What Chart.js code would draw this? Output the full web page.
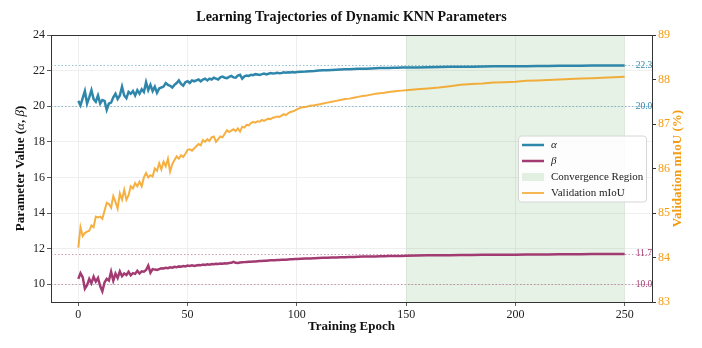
<!DOCTYPE html>
<html>
<head>
<meta charset="utf-8">
<script src="https://cdn.jsdelivr.net/npm/chart.js@4.4.1/dist/chart.umd.min.js"></script>
<style>
  html, body { margin: 0; padding: 0; background: #fff; }
  #wrap { width: 702px; height: 348px; position: relative; }
</style>
</head>
<body>
<div id="wrap"><canvas id="chart"></canvas></div>
<script>
// Dynamic KNN parameter trajectories (alpha, beta) + validation mIoU

// x positions (training epochs)
const epochs = [
  0, 1, 2, 3, 4, 5, 6, 7, 8, 9, 10, 11, 12, 13, 14, 15, 16, 17, 18, 19,
  20, 21, 22, 23, 24, 25, 26, 27, 28, 29, 30, 31, 32, 33, 34, 35, 36, 37, 38, 39,
  40, 41, 42, 43, 44, 45, 46, 47, 48, 49, 50, 51, 52, 53, 54, 55, 56, 57, 58, 59,
  60, 61, 62, 63, 64, 65, 66, 67, 68, 69, 70, 71, 72, 73, 74, 75, 76, 77, 78, 79,
  80, 81, 82, 83, 84, 85, 86, 87, 88, 89, 90, 91, 92, 93, 94, 95, 96, 97, 98, 99, 100,
  102, 104, 106, 108, 110, 112, 114, 116, 118, 120, 122, 124, 126, 128, 130,
  132, 134, 136, 138, 140, 142, 144, 146, 148, 150,
  155, 160, 165, 170, 175, 180, 185, 190, 195, 200,
  205, 210, 215, 220, 225, 230, 235, 240, 245, 250
];

const alphaValues = [
  20.3, 20.05, 20.45, 20.85, 20.15, 20.5, 20.9, 20.4, 20.25, 20.6,
  20.15, 20.35, 20.3, 19.8, 20.15, 20.2, 20.5, 20.7, 20.4, 20.6,
  21.1, 20.6, 20.45, 20.8, 20.7, 20.85, 20.6, 20.9, 20.7, 20.95,
  20.8, 21.35, 20.9, 21.2, 20.85, 21.1, 20.75, 21.0, 21.05, 21.1,
  21.3, 21.2, 21.15, 21.05, 21.2, 21.3, 21.45, 21.25, 21.15, 21.35,
  21.4, 21.3, 21.45, 21.4, 21.45, 21.5, 21.4, 21.5, 21.55, 21.45,
  21.55, 21.5, 21.6, 21.55, 21.5, 21.62, 21.66, 21.6, 21.58, 21.65,
  21.7, 21.62, 21.6, 21.72, 21.76, 21.55, 21.68, 21.72, 21.7, 21.76,
  21.74, 21.8, 21.78, 21.75, 21.8, 21.83, 21.79, 21.82, 21.86, 21.84,
  21.85, 21.88, 21.85, 21.87, 21.9, 21.88, 21.9, 21.89, 21.92, 21.9,
  21.92,
  21.94, 21.95, 21.97, 21.98, 22.0, 22.02, 22.02, 22.04, 22.05, 22.06,
  22.07, 22.08, 22.09, 22.1, 22.11, 22.11, 22.12, 22.13, 22.14, 22.14,
  22.15, 22.16, 22.16, 22.17, 22.17,
  22.18, 22.19, 22.2, 22.21, 22.22, 22.22, 22.23, 22.24, 22.24, 22.25,
  22.25, 22.26, 22.26, 22.27, 22.27, 22.27, 22.28, 22.28, 22.28, 22.29
];

const betaValues = [
  10.3, 10.62, 10.4, 9.75, 9.95, 10.3, 10.05, 10.42, 10.15, 10.35,
  9.9, 9.6, 10.1, 10.3, 10.2, 10.7, 10.2, 10.6, 10.35, 10.72,
  10.45, 10.6, 10.52, 10.7, 10.5, 10.62, 10.58, 10.75, 10.6, 10.72,
  10.7, 10.8, 11.05, 10.65, 10.85, 10.82, 10.8, 10.85, 10.9, 10.88,
  10.92, 10.9, 10.95, 10.93, 10.98, 10.95, 11.0, 10.98, 11.02, 11.0,
  11.05, 11.03, 11.06, 11.02, 11.05, 11.08, 11.06, 11.1, 11.08, 11.12,
  11.1, 11.13, 11.12, 11.15, 11.13, 11.16, 11.15, 11.18, 11.17, 11.19,
  11.2, 11.26, 11.2, 11.19, 11.22, 11.23, 11.24, 11.25, 11.26, 11.26,
  11.28, 11.27, 11.29, 11.3, 11.3, 11.32, 11.32, 11.33, 11.34, 11.34,
  11.35, 11.36, 11.36, 11.37, 11.38, 11.38, 11.39, 11.4, 11.4, 11.41,
  11.42,
  11.43, 11.44, 11.45, 11.46, 11.47, 11.48, 11.49, 11.5, 11.5, 11.51,
  11.52, 11.53, 11.53, 11.54, 11.55, 11.55, 11.56, 11.56, 11.57, 11.57,
  11.58, 11.58, 11.59, 11.59, 11.6,
  11.61, 11.62, 11.62, 11.63, 11.64, 11.64, 11.65, 11.65, 11.66, 11.66,
  11.67, 11.67, 11.67, 11.68, 11.68, 11.68, 11.69, 11.69, 11.69, 11.7
];

const miouValues = [
  84.22, 84.68, 84.48, 84.55, 84.58, 84.6, 84.72, 84.68, 84.92, 84.9,
  84.92, 84.87, 85.05, 85.23, 85.2, 85.12, 85.38, 85.25, 85.1, 85.44,
  85.3, 85.52, 85.3, 85.4, 85.6, 85.55, 85.67, 85.6, 85.7, 85.6,
  85.8, 85.9, 85.8, 85.85, 85.82, 86.0, 85.95, 86.12, 85.98, 86.15,
  86.05, 86.22, 85.93, 86.1, 86.19, 86.27, 86.22, 86.3, 86.26, 86.33,
  86.42, 86.43, 86.4, 86.45, 86.5, 86.55, 86.52, 86.64, 86.6, 86.66,
  86.62, 86.7, 86.72, 86.6, 86.66, 86.72, 86.7, 86.78, 86.86, 86.82,
  86.85, 86.88, 86.84, 86.9, 86.83, 86.94, 86.92, 86.98, 86.97, 87.02,
  87.05, 87.03, 87.06, 87.05, 87.09, 87.07, 87.1, 87.12, 87.11, 87.14,
  87.15, 87.17, 87.16, 87.19, 87.22, 87.2, 87.24, 87.27, 87.28, 87.3,
  87.33,
  87.37, 87.38, 87.41, 87.42, 87.44, 87.46, 87.48, 87.5, 87.52, 87.54,
  87.56, 87.57, 87.59, 87.61, 87.63, 87.64, 87.66, 87.68, 87.69, 87.7,
  87.72, 87.73, 87.74, 87.75, 87.76,
  87.78, 87.8, 87.82, 87.85, 87.88, 87.9, 87.91, 87.93, 87.94, 87.95,
  87.97, 87.98, 87.99, 88.0, 88.01, 88.02, 88.03, 88.04, 88.05, 88.06
];

// reference levels: initial and final values
const alphaRefs = [20.0, 22.3];
const betaRefs = [10.0, 11.7];
const convergenceRange = [150, 250];

// tick labels
const xTicks = [0, 50, 100, 150, 200, 250];
const yTicks = [10, 12, 14, 16, 18, 20, 22, 24];
const y2Ticks = [83, 84, 85, 86, 87, 88, 89];

const COLORS = {
  alpha: '#2E86AB',
  beta: '#A23B72',
  miou: 'rgba(243, 156, 18, 0.8)',
  miouText: '#F39C12',
  region: 'rgba(0, 128, 0, 0.1)',
  axis: '#333333',
  grid: '#ebebeb',
  text: '#222222'
};
const SERIF = '"Liberation Serif", "Times New Roman", serif';

const toPoints = vals => epochs.map((e, i) => ({ x: e, y: vals[i] }));

// desenha texto com partes de fontes diferentes (negrito / itálico)
function drawParts(ctx, parts, x, y) {
  let total = 0;
  parts.forEach(p => { ctx.font = p.font; total += ctx.measureText(p.text).width; });
  let cx = x - total / 2;
  parts.forEach(p => {
    ctx.font = p.font;
    ctx.fillText(p.text, cx, y);
    cx += ctx.measureText(p.text).width;
  });
}

const decorPlugin = {
  id: 'decor',
  beforeDatasetsDraw(chart) {
    const { ctx, chartArea: a, scales: { x, y } } = chart;
    ctx.save();
    // convergence region
    const x0 = x.getPixelForValue(convergenceRange[0]);
    const x1 = x.getPixelForValue(convergenceRange[1]);
    ctx.fillStyle = COLORS.region;
    ctx.fillRect(x0, a.top, x1 - x0, a.bottom - a.top);

    // dotted reference lines
    ctx.lineWidth = 1;
    ctx.setLineDash([1.5, 2]);
    const refs = [[alphaRefs, COLORS.alpha], [betaRefs, COLORS.beta]];
    refs.forEach(([vals, color]) => {
      ctx.strokeStyle = color;
      ctx.globalAlpha = 0.5;
      vals.forEach(v => {
        const py = Math.round(y.getPixelForValue(v)) + 0.5;
        ctx.beginPath();
        ctx.moveTo(a.left, py);
        ctx.lineTo(a.right, py);
        ctx.stroke();
      });
    });
    ctx.restore();
  },
  afterDraw(chart) {
    const { ctx, chartArea: a, scales: { x, y } } = chart;
    const cy = (a.top + a.bottom) / 2;
    ctx.save();

    // top spine
    ctx.strokeStyle = COLORS.axis;
    ctx.lineWidth = 1;
    ctx.beginPath();
    ctx.moveTo(a.left, a.top + 0.5);
    ctx.lineTo(a.right, a.top + 0.5);
    ctx.stroke();

    // ref value labels
    ctx.font = '9.5px ' + SERIF;
    ctx.textAlign = 'left';
    ctx.textBaseline = 'middle';
    const lx = x.getPixelForValue(epochs[epochs.length - 1]) + 11;
    [[alphaRefs, COLORS.alpha], [betaRefs, COLORS.beta]].forEach(([vals, color]) => {
      ctx.fillStyle = color;
      vals.forEach(v => ctx.fillText(v.toFixed(1), lx, y.getPixelForValue(v)));
    });

    // title
    ctx.fillStyle = '#111';
    ctx.textAlign = 'center';
    ctx.font = 'bold 14px ' + SERIF;
    ctx.fillText('Learning Trajectories of Dynamic KNN Parameters', (a.left + a.right) / 2, 17);

    // x axis title
    ctx.font = 'bold 13px ' + SERIF;
    ctx.fillText('Training Epoch', (a.left + a.right) / 2, 327);

    // left axis title
    const bold = 'bold 13px ' + SERIF;
    const ital = 'italic 13px ' + SERIF;
    ctx.save();
    ctx.translate(21, cy);
    ctx.rotate(-Math.PI / 2);
    ctx.textAlign = 'left';
    drawParts(ctx, [
      { text: 'Parameter Value (', font: bold },
      { text: 'α', font: ital },
      { text: ', ', font: bold },
      { text: 'β', font: ital },
      { text: ')', font: bold }
    ], 0, 0);
    ctx.restore();

    // right axis title
    ctx.save();
    ctx.translate(678, cy);
    ctx.rotate(-Math.PI / 2);
    ctx.fillStyle = COLORS.miouText;
    ctx.font = bold;
    ctx.textAlign = 'center';
    ctx.fillText('Validation mIoU (%)', 0, 0);
    ctx.restore();

    // legend (center right)
    const lw = 128, lh = 66;
    const bx = a.right - 6 - lw, by = cy - lh / 2;
    ctx.fillStyle = 'rgba(255,255,255,0.85)';
    ctx.strokeStyle = '#d6d6d6';
    ctx.lineWidth = 1;
    ctx.beginPath();
    ctx.roundRect(bx + 0.5, by + 0.5, lw, lh, 3);
    ctx.fill();
    ctx.stroke();

    const items = [
      { label: 'α', kind: 'line', color: COLORS.alpha, width: 2.5, italic: true },
      { label: 'β', kind: 'line', color: COLORS.beta, width: 2.5, italic: true },
      { label: 'Convergence Region', kind: 'patch', color: COLORS.region },
      { label: 'Validation mIoU', kind: 'line', color: COLORS.miou, width: 1.8 }
    ];
    ctx.textAlign = 'left';
    ctx.textBaseline = 'middle';
    items.forEach((it, i) => {
      const ry = by + 9.5 + i * 16;
      const sx = bx + 4;
      if (it.kind === 'line') {
        ctx.strokeStyle = it.color;
        ctx.lineWidth = it.width;
        ctx.beginPath();
        ctx.moveTo(sx, ry);
        ctx.lineTo(sx + 22, ry);
        ctx.stroke();
      } else {
        ctx.fillStyle = it.color;
        ctx.fillRect(sx, ry - 4, 22, 8);
      }
      ctx.fillStyle = COLORS.text;
      ctx.font = (it.italic ? 'italic ' : '') + '11px ' + SERIF;
      ctx.fillText(it.label, bx + 33, ry);
    });

    ctx.restore();
  }
};

const tickFont = { family: SERIF, size: 12 };

new Chart(document.getElementById('chart'), {
  type: 'line',
  data: {
    datasets: [
      {
        label: 'α',
        data: toPoints(alphaValues),
        borderColor: COLORS.alpha,
        borderWidth: 2.5,
        pointRadius: 0,
        tension: 0,
        yAxisID: 'y',
        order: 2
      },
      {
        label: 'β',
        data: toPoints(betaValues),
        borderColor: COLORS.beta,
        borderWidth: 2.5,
        pointRadius: 0,
        tension: 0,
        yAxisID: 'y',
        order: 2
      },
      {
        label: 'Validation mIoU',
        data: toPoints(miouValues),
        borderColor: COLORS.miou,
        borderWidth: 2,
        pointRadius: 0,
        tension: 0,
        yAxisID: 'y2',
        order: 1
      }
    ]
  },
  options: {
    responsive: true,
    maintainAspectRatio: false,
    animation: false,
    devicePixelRatio: 1,
    layout: { padding: { top: 35, left: 0, right: 0, bottom: 0 } },
    plugins: {
      legend: { display: false },
      title: { display: false },
      tooltip: { enabled: false }
    },
    scales: {
      x: {
        type: 'linear',
        min: -12.5,
        max: 262.5,
        afterBuildTicks: s => { s.ticks = xTicks.map(v => ({ value: v })); },
        afterFit: s => { s.height = 46; },
        grid: { color: COLORS.grid, lineWidth: 0.8, tickColor: COLORS.axis, tickLength: 4 },
        border: { color: COLORS.axis, width: 1 },
        ticks: { font: tickFont, color: COLORS.text, padding: 2, maxRotation: 0, autoSkip: false }
      },
      y: {
        position: 'left',
        min: 9,
        max: 24,
        afterBuildTicks: s => { s.ticks = yTicks.map(v => ({ value: v })); },
        afterFit: s => { s.width = 51; },
        grid: { color: COLORS.grid, lineWidth: 0.8, tickColor: COLORS.axis, tickLength: 4 },
        border: { color: COLORS.axis, width: 1 },
        ticks: { font: tickFont, color: COLORS.text, padding: 2, autoSkip: false }
      },
      y2: {
        position: 'right',
        min: 83,
        max: 89,
        afterBuildTicks: s => { s.ticks = y2Ticks.map(v => ({ value: v })); },
        afterFit: s => { s.width = 50; },
        grid: { drawOnChartArea: false, tickColor: COLORS.axis, tickLength: 4 },
        border: { color: COLORS.axis, width: 1 },
        ticks: { font: tickFont, color: COLORS.miouText, padding: 2, autoSkip: false }
      }
    }
  },
  plugins: [decorPlugin]
});
</script>
</body>
</html>
